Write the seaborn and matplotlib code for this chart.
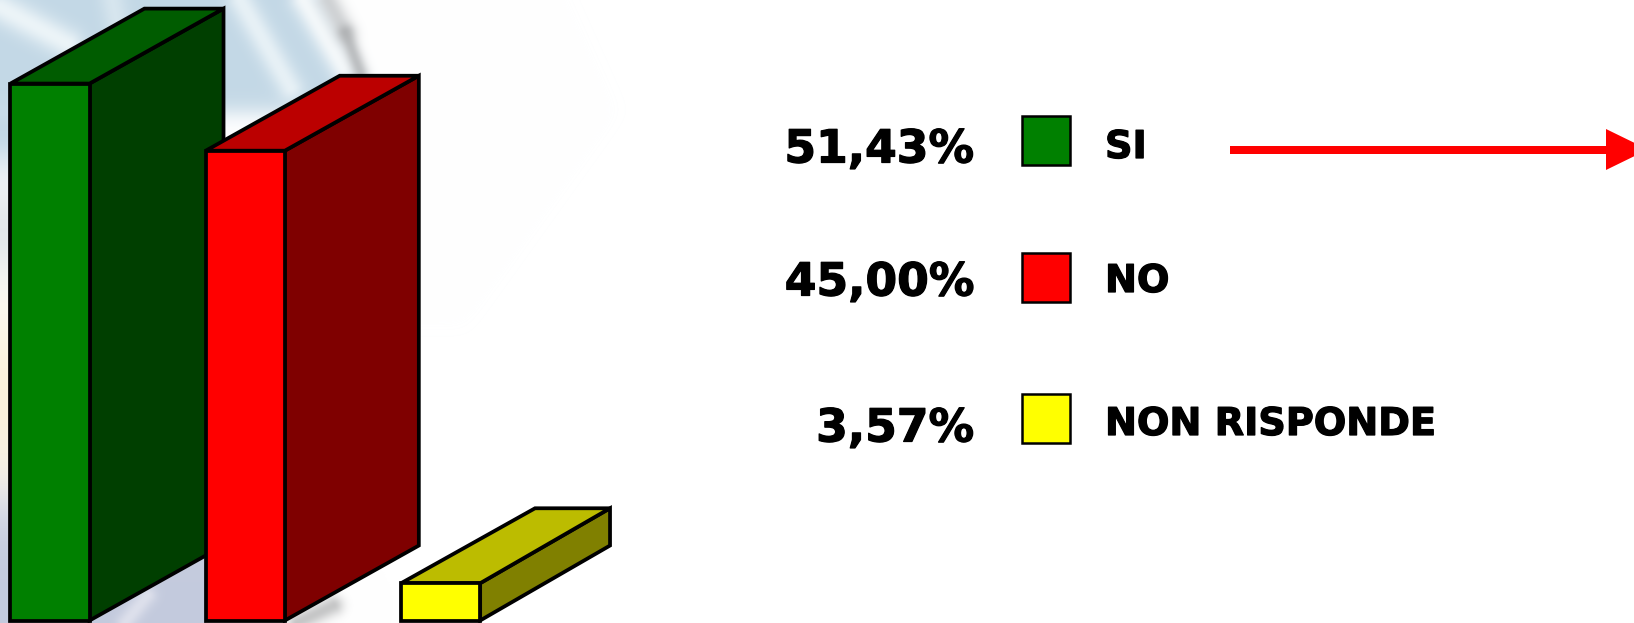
"""Survey result chart: fake 3D bars, side legend and arrow."""

import matplotlib.patheffects as pe
import matplotlib.pyplot as plt
import numpy as np
import pandas as pd
import seaborn as sns
from matplotlib.patches import Polygon, Rectangle
from matplotlib.colors import to_rgb

W, H = 1634, 623

categories = ["SI", "NO", "NON RISPONDE"]
values = [51.43, 45.00, 3.57]
front_colors = ["#008000", "#ff0000", "#ffff00"]
top_colors = ["#005c00", "#bb0000", "#bcbc00"]
side_colors = ["#003f00", "#7f0000", "#808000"]
value_labels = ["51,43%", "45,00%", "3,57%"]

legend_tops = [116, 253, 394]
value_y = [145, 278, 424]
name_y = [144, 278, 421]

DEPTH_X = 0.686  # category units
DEPTH_Y = 7.18  # percentage points
BACK_TRIM = [0, 0, 0.021]  # the small bar narrows a little towards the back
BASELINE_PX = 620.5
PX_PER_POINT = 10.44


def background():
    # soft washed out picture behind the bars
    yy, xx = np.mgrid[0:H, 0:W]
    img = np.ones((H, W, 3))

    def paint(mask, color):
        mask = np.clip(mask, 0, 1)[..., None]
        img[:] = img * (1 - mask) + np.array(to_rgb(color)) * mask

    def streak(x0, y0, x1, y1, width, color, strength=1.0):
        dx, dy = x1 - x0, y1 - y0
        t = np.clip(((xx - x0) * dx + (yy - y0) * dy) / (dx * dx + dy * dy), 0, 1)
        dist = np.hypot(xx - (x0 + t * dx), yy - (y0 + t * dy))
        paint(strength * np.exp(-((dist / width) ** 2)), color)

    # blue area, ends softly at the grey arc and below the top of the red bar
    edge = 318 + 0.45 * yy
    blue = 1 / (1 + np.exp((xx - edge) / 7)) * 1 / (1 + np.exp((yy - 112) / 6))
    paint(blue, "#c3d8e6")
    paint(np.exp(-((yy - 400) / 110) ** 2) * (xx < 40), "#fbf2dc")
    paint(np.exp(-((yy - 230) / 50) ** 2) * (xx < 40), "#e4e8ea")
    paint(np.exp(-((yy - 130) / 40) ** 2) * (xx < 40), "#c3d8e6")
    paint(1 / (1 + np.exp((500 - yy) / 20)) * (xx < 206), "#c3cadd")

    streak(0, 7, 67, 43, 15, "#f3f9fb", 0.85)
    streak(112, 0, 116, 20, 13, "#e6f0f5", 0.55)
    streak(240, 0, 290, 87, 13, "#f0f7fa", 0.8)
    streak(303, 0, 343, 67, 13, "#f8fbfc", 0.9)
    streak(328, 0, 345, 32, 11, "#b8babc", 0.6)
    streak(345, 32, 360, 72, 8, "#a6a8aa", 0.7)
    streak(125, 622, 147, 595, 9, "#eeeef5", 0.6)
    streak(297, 622, 333, 605, 10, "#a8a9aa", 0.65)
    return img


sns.set_theme(style="white")
plt.rcParams["font.family"] = ["DejaVu Sans"]

df = pd.DataFrame({"category": categories, "value": values})

fig = plt.figure(figsize=(W / 100, H / 100), dpi=100, facecolor="white")

bg = fig.add_axes([0, 0, 1, 1], zorder=0)
bg.imshow(background(), aspect="auto", interpolation="bilinear")
bg.axis("off")

ax = fig.add_axes([0, 0, 1, 1], zorder=1)
ax.patch.set_alpha(0)
sns.barplot(
    data=df,
    x="category",
    y="value",
    hue="category",
    palette=dict(zip(categories, front_colors)),
    width=0.405,
    saturation=1,
    legend=False,
    edgecolor="black",
    linewidth=2.7,
    ax=ax,
)
ax.set_xlim(-50 / 195.3, (W - 50) / 195.3)
ax.set_ylim(-(H - BASELINE_PX) / PX_PER_POINT, BASELINE_PX / PX_PER_POINT)
ax.axis("off")

# side and top faces, built on the bars seaborn drew
for i, bar in enumerate(ax.patches):
    x0, x1 = bar.get_x(), bar.get_x() + bar.get_width()
    h = bar.get_height()
    back = x1 + DEPTH_X - BACK_TRIM[i]
    bar.set_zorder(3 * i + 4)
    side = [(x1, 0), (back, DEPTH_Y), (back, h + DEPTH_Y), (x1, h)]
    top = [(x0, h), (x0 + DEPTH_X, h + DEPTH_Y), (back, h + DEPTH_Y), (x1, h)]
    for pts, color, z in [(side, side_colors[i], 3 * i + 2), (top, top_colors[i], 3 * i + 3)]:
        ax.add_patch(
            Polygon(pts, closed=True, facecolor=color, edgecolor="black",
                    linewidth=2.7, joinstyle="miter", zorder=z)
        )

# right hand side is laid out in pixels
over = fig.add_axes([0, 0, 1, 1], zorder=2)
over.set_xlim(0, W)
over.set_ylim(H, 0)
over.axis("off")
over.patch.set_alpha(0)

heavy = [pe.withStroke(linewidth=0.9, foreground="black")]
for i, cat in enumerate(categories):
    over.add_patch(
        Rectangle((1022, legend_tops[i]), 48, 48.5, facecolor=front_colors[i],
                  edgecolor="black", linewidth=1.8)
    )
    over.text(974, value_y[i], value_labels[i], ha="right", va="center_baseline",
              fontsize=32.8, fontweight="bold", color="black", path_effects=heavy)
    over.text(1105, name_y[i], cat, ha="left", va="center_baseline",
              fontsize=27.5, fontweight="bold", color="black", path_effects=heavy)

over.add_patch(Rectangle((1230, 145.5), 380, 8, facecolor="#ff0000", edgecolor="none"))
over.add_patch(Polygon([(1606, 129), (1606, 170), (1648, 149.5)], closed=True,
                       facecolor="#ff0000", edgecolor="none"))

fig.savefig("out.png", dpi=100)
plt.close(fig)
